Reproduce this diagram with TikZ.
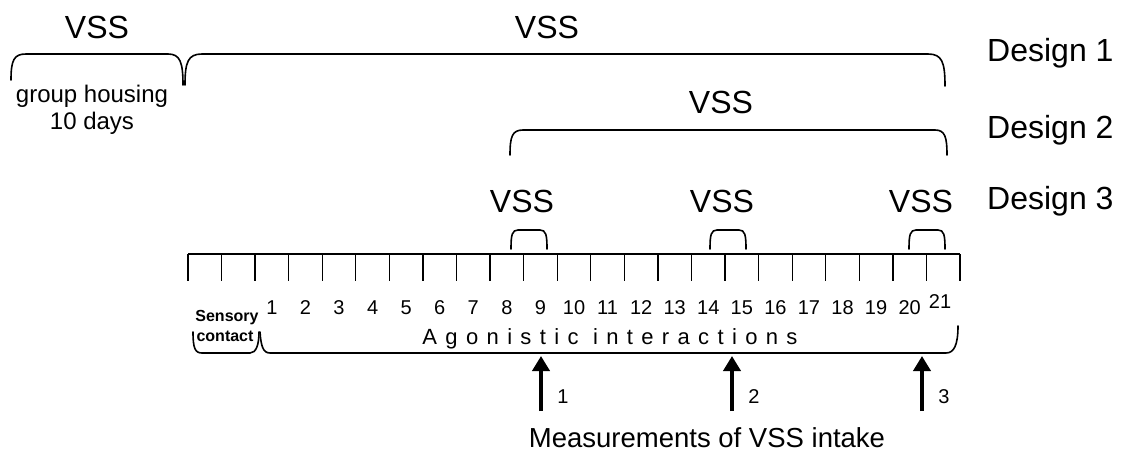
\documentclass[tikz,border=0pt]{standalone}
\usepackage{fontspec}
\setmainfont{Liberation Sans}
\usetikzlibrary{arrows.meta}
\tikzset{
  brace/.style={line width=1.6pt, line cap=round},
  tickline/.style={line width=1.3pt},
  big/.style={font=\fontsize{32}{36}\selectfont, inner sep=0pt},
  mid/.style={font=\fontsize{24}{28}\selectfont, inner sep=0pt},
  num/.style={font=\fontsize{20}{22}\selectfont, inner sep=0pt},
  sens/.style={font=\bfseries\fontsize{16}{18}\selectfont, inner sep=0pt},
  meas/.style={line width=4pt, -{Triangle[width=17pt,length=15pt]}},
}
\begin{document}
\begin{tikzpicture}[x=1pt,y=-1pt]
\useasboundingbox (0,0) rectangle (1125,452);
% ---- labels on top
\node[big] (vss0) at (97,27) {VSS};
\node[big] (vss1) at (547,27) {VSS};
\node[big] (vss2) at (721,102) {VSS};
\node[big] (vss3a) at (522,201) {VSS};
\node[big] (vss3b) at (722,201) {VSS};
\node[big] (vss3c) at (921,201) {VSS};
\node[big, anchor=west] (d1) at (987,53) {Design 1};
\node[big, anchor=west] (d2) at (987,130) {Design 2};
\node[big, anchor=west] (d3) at (987,201) {Design 3};
\node[mid] (gh) at (92,96) {group housing};
\node[mid] (days) at (92,123) {10 days};
% ---- braces
\draw[brace] (11,80) .. controls (11,60) and (14,54) .. (26,54) -- (168,54) .. controls (180,54) and (183,62) .. (183,85);
\draw[brace] (185,85) .. controls (185,62) and (188,54) .. (202,54) -- (928,54) .. controls (942,54) and (945,62) .. (945,86);
\draw[brace] (510,155) .. controls (510,137) and (512,130) .. (523,130) -- (935,130) .. controls (945,130) and (947,137) .. (947,155);
\foreach \a in {511,710,909}{
  \draw[brace] (\a,249) .. controls (\a,235) and (\a+1,230) .. (\a+7,230) -- (\a+29,230) .. controls (\a+35,230) and (\a+36,235) .. (\a+36,249);
}
% ---- timeline
\draw[tickline] (188,254) -- (960,254);
\foreach \i in {0,...,23}{
  \draw[tickline] (188+\i*33.565,254) -- (188+\i*33.565,281);
}
\foreach \n in {1,...,20}{
  \node[num] (n\n) at ({188+(\n+1.5)*33.565},308) {\n};
}
\node[num] (n21) at (940,302) {21};
\node[sens] (s1) at (227,318) {Sensory};
\node[sens] (s2) at (225,336) {contact};
\node[font=\fontsize{22}{24}\selectfont\addfontfeature{LetterSpace=38}, inner sep=0pt] (ag) at (610,339) {Agonistic interactions};
% bottom brackets
\draw[brace] (193,332) .. controls (193,348) and (195,353) .. (202,353) -- (250,353) .. controls (256,353) and (259,345) .. (259,332);
\draw[brace] (260,332) .. controls (261,346) and (263,353) .. (270,353) -- (946,353) .. controls (954,353) and (958,345) .. (958,326);
% ---- measurement arrows
\foreach \x/\k in {541/1,732/2,922/3}{
  \coordinate (b\k) at (\x,411);
  \coordinate (t\k) at (\x,356);
  \draw[meas] (b\k) -- (t\k);
  \node[num] (m\k) at (\x+22,397) {\k};
}
\node[font=\fontsize{27.5}{30}\selectfont, inner sep=0pt] (meas) at (707,438) {Measurements of VSS intake};
\end{tikzpicture}
\end{document}
